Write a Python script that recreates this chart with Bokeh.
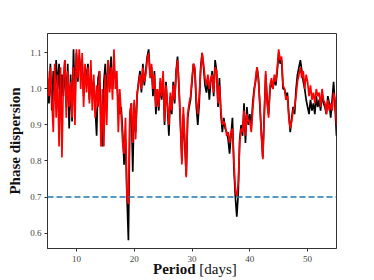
import numpy as np
from bokeh.plotting import figure
from bokeh.layouts import column
from bokeh.models import Span, Div, FixedTicker, PrintfTickFormatter
from bokeh.embed import file_html
from bokeh.resources import INLINE

period_start = 5.0
period_step = 0.25

black_vals = [
    1.03, 0.96, 1.07, 0.94,
    1.05, 0.97, 1.08, 1.00,
    1.07, 0.93, 1.04, 0.98,
    1.08, 0.95, 1.07, 0.89,
    1.04, 0.91, 1.11, 0.96,
    1.10, 1.02, 1.09, 1.05,
    1.08, 0.98, 1.06, 1.03,
    1.07, 0.97, 1.04, 1.00,
    1.02, 0.95, 0.87, 1.03,
    1.05, 0.92, 0.84, 1.02,
    1.07, 0.97, 1.08, 1.00,
    1.09, 1.00, 1.06, 1.03,
    1.02, 0.96, 0.93, 0.95,
    0.88, 0.79, 0.86, 0.70,
    0.58, 0.93, 0.96, 0.77,
    0.96, 0.88, 0.98, 1.02,
    1.05, 0.99, 1.07, 1.01,
    1.05, 1.09, 1.11, 1.04,
    1.06, 0.98, 1.05, 0.93,
    1.00, 0.94, 1.02, 0.97,
    1.04, 0.90, 1.02, 0.95,
    0.87, 0.98, 0.93, 1.02,
    0.96, 1.05, 1.09, 1.00,
    0.90, 0.80, 0.93, 0.85,
    0.76, 0.92, 0.95, 0.97,
    1.02, 1.07, 1.05, 0.95,
    0.90, 0.96, 1.06, 1.10,
    1.06, 1.01, 0.99, 1.03,
    0.97, 1.02, 1.05, 0.98,
    1.08, 1.05, 0.95, 1.03,
    0.93, 0.88, 0.92, 0.89,
    0.88, 0.86, 0.82, 0.87,
    0.92, 0.78, 0.70, 0.645,
    0.71, 0.86, 0.90, 0.87,
    0.96, 0.85, 0.95, 0.90,
    0.93, 0.89, 0.96, 1.00,
    1.02, 1.06, 1.03, 0.95,
    0.88, 0.81, 0.93, 1.04,
    0.97, 0.93, 1.00, 1.02,
    1.00, 1.03, 1.01, 1.05,
    1.10, 1.07, 1.08, 1.00,
    1.00, 0.98, 0.99, 0.93,
    0.88, 0.92, 0.95, 0.93,
    1.00, 1.04, 1.06, 1.08,
    1.05, 1.02, 1.00, 0.97,
    0.95, 0.93, 0.97, 0.94,
    0.96, 0.93, 0.98, 0.95,
    0.97, 0.94, 0.99, 0.96,
    0.95, 0.93, 0.98, 0.96,
    0.92, 0.97, 1.02, 0.95,
    0.87,
]

red_vals = [
    1.05, 0.98, 1.06, 0.97,
    0.88, 1.07, 0.92, 1.04,
    0.84, 1.06, 0.81, 1.03,
    1.08, 0.92, 1.05, 0.95,
    1.02, 0.92, 1.06, 0.90,
    1.11, 1.03, 1.11, 1.00,
    1.10, 0.95, 1.07, 0.99,
    1.06, 0.96, 1.08, 0.94,
    1.04, 0.92, 1.01, 0.95,
    1.05, 0.84, 1.00, 0.84,
    1.04, 0.90, 1.08, 0.99,
    1.06, 0.97, 1.11, 1.00,
    1.05, 0.88, 1.00, 0.93,
    0.85, 0.82, 0.92, 0.70,
    0.68, 0.93, 0.96, 0.85,
    0.97, 0.86, 0.99, 1.01,
    1.04, 1.00, 1.06, 1.02,
    1.04, 1.08, 1.10, 1.03,
    1.07, 1.00, 1.04, 0.95,
    1.00, 0.95, 1.03, 0.98,
    1.05, 0.91, 1.01, 0.96,
    0.90, 0.99, 0.94, 1.01,
    0.97, 1.04, 1.08, 1.01,
    0.91, 0.79, 0.95, 0.86,
    0.755, 0.93, 0.96, 0.98,
    1.03, 1.07, 1.06, 0.97,
    0.93, 0.98, 1.05, 1.10,
    1.07, 1.03, 1.01, 1.04,
    1.00, 1.03, 1.04, 0.99,
    1.06, 1.05, 0.96, 1.01,
    0.94, 0.90, 0.91, 0.90,
    0.87, 0.88, 0.85, 0.88,
    0.89, 0.80, 0.72, 0.70,
    0.74, 0.85, 0.89, 0.88,
    0.94, 0.87, 0.93, 0.91,
    0.91, 0.88, 0.94, 0.99,
    1.03, 1.06, 1.02, 0.96,
    0.87, 0.805, 0.92, 1.05,
    0.96, 0.92, 1.01, 1.03,
    1.00, 1.04, 1.02, 1.06,
    1.11, 1.08, 1.09, 1.01,
    1.00, 0.97, 0.98, 0.92,
    0.89, 0.91, 0.94, 0.95,
    0.98, 1.02, 1.04, 1.06,
    1.03, 1.05, 1.00, 1.04,
    1.02, 0.98, 1.01, 0.97,
    0.99, 0.96, 1.00, 0.98,
    0.99, 0.95, 1.00, 0.97,
    0.96, 0.93, 0.97, 0.94,
    0.96, 0.94, 0.99, 0.97,
    0.90,
]

threshold = 0.7
x_ticks = [10, 20, 30, 40, 50]
y_ticks = [0.6, 0.7, 0.8, 0.9, 1.0, 1.1]

periods = [period_start + i * period_step for i in range(len(black_vals))]

p = figure(width=358, height=264, output_backend="svg", toolbar_location=None,
           x_range=(5, 55), y_range=(0.557, 1.154),
           min_border_left=47, min_border_right=22, min_border_top=33, min_border_bottom=15)

p.line(periods, black_vals, line_color="black", line_width=1.7)
p.line(periods, red_vals, line_color="red", line_width=1.7)
p.add_layout(Span(location=threshold, dimension="width", line_color="#1f77b4",
                  line_width=1.5, line_dash="6 3"))

p.xgrid.visible = False
p.ygrid.visible = False
p.outline_line_color = "#333333"
p.outline_line_width = 1
p.background_fill_color = "white"
p.border_fill_color = "white"

for ax in (p.xaxis[0], p.yaxis[0]):
    ax.major_tick_in = 0
    ax.major_tick_out = 3
    ax.minor_tick_line_color = None
    ax.axis_line_color = "#333333"
    ax.major_tick_line_color = "#333333"
    ax.major_label_text_font = "Liberation Serif"
    ax.major_label_text_font_size = "9px"
    ax.major_label_text_color = "#444444"

p.xaxis[0].ticker = FixedTicker(ticks=x_ticks)
p.yaxis[0].ticker = FixedTicker(ticks=y_ticks)
p.yaxis[0].formatter = PrintfTickFormatter(format="%.1f")
p.xaxis[0].major_label_standoff = 4
p.yaxis[0].major_label_standoff = 3

p.yaxis[0].axis_label = "Phase dispersion"
p.yaxis[0].axis_label_text_font = "Liberation Serif"
p.yaxis[0].axis_label_text_font_style = "bold"
p.yaxis[0].axis_label_text_font_size = "15px"
p.yaxis[0].axis_label_standoff = 4
p.yaxis[0].axis_label_text_color = "#111111"

xlabel = Div(
    text='<span style="font-weight:bold">Period</span> <span>[days]</span>',
    width=358, height=14, margin=(-3, 0, 0, 0),
    styles={"font-family": "Liberation Serif", "font-size": "15px", "color": "#111111",
            "line-height": "16px", "padding-left": "153px", "white-space": "nowrap"},
)

layout = column(p, xlabel, spacing=0)

open("out.html", "w").write(file_html(layout, INLINE))
